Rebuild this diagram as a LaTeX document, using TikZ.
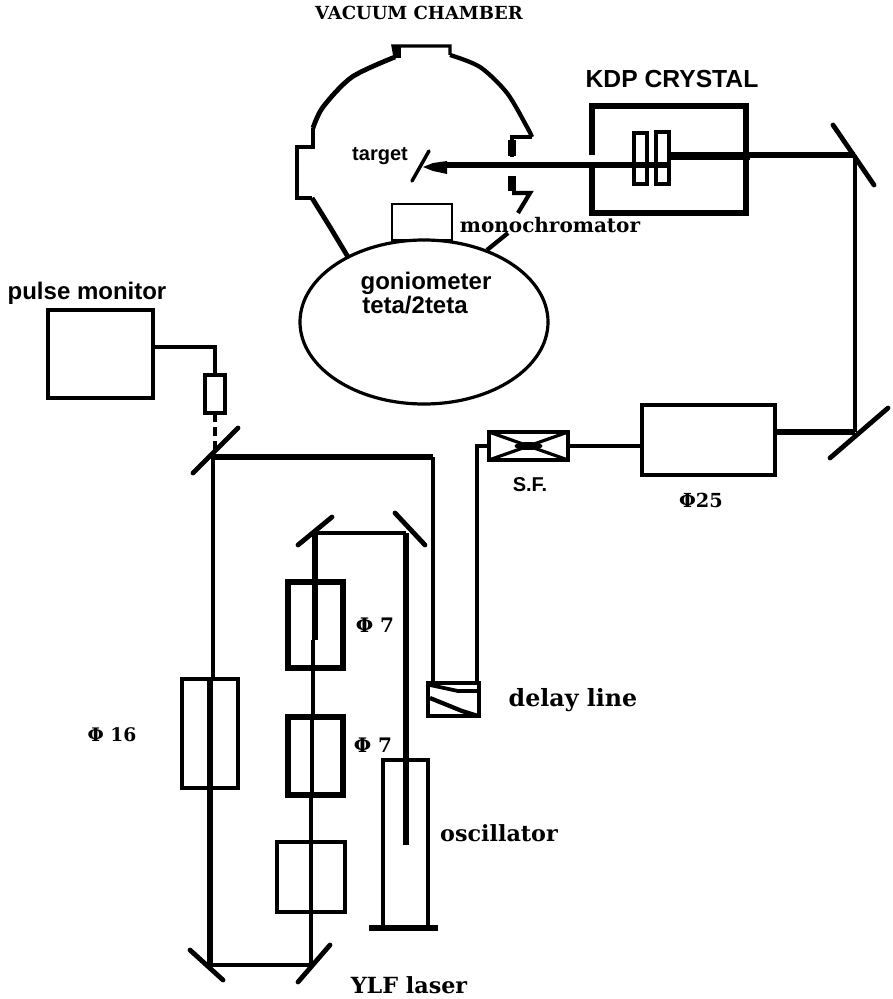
\documentclass[tikz,border=0pt]{standalone}
\usepackage{fontspec}
\setmainfont{DejaVu Serif}
\setsansfont{Liberation Sans}
\usetikzlibrary{shapes.geometric}
\tikzset{
  serlbl/.style={font=\rmfamily\bfseries\fontsize{#1}{#1}\selectfont, inner sep=0pt},
  sanslbl/.style={font=\sffamily\bfseries\fontsize{#1}{#1}\selectfont, inner sep=0pt},
  unit/.style 2 args={draw, rectangle, inner sep=0pt, outer sep=0pt, line width=3.4pt, minimum width=#1*0.75pt, minimum height=#2*0.75pt},
  mirror/.style={line width=3.6pt, line cap=round},
  beam/.style={line width=3.2pt},
  thinbeam/.style={line width=2.8pt},
  wall/.style={line width=3.2pt},
}
\begin{document}
\begin{tikzpicture}[x=0.75pt, y=-0.75pt]
\useasboundingbox (0,0) rectangle (892,999);
% labels
\node[serlbl=13.5] (lblchamber) at (419,13) {VACUUM CHAMBER};
\node[sanslbl=18.5] (lblkdp) at (672,79) {KDP CRYSTAL};
\node[sanslbl=15] (lbltarget) at (380,156) {target};
\node[serlbl=15] (lblmono) at (550,225) {monochromator};
\node[sanslbl=18] (lblgonio) at (426,283) {goniometer};
\node[sanslbl=18] (lblteta) at (415,305) {teta/2teta};
\node[sanslbl=18] (lblpulse) at (87,293) {pulse monitor};
\node[sanslbl=15] (lblsf) at (530,485) {S.F.};
\node[serlbl=14.5] (lblphia) at (701,500) {Φ25};
\node[serlbl=15] (lblphib) at (375,625) {Φ 7};
\node[serlbl=15] (lblphic) at (373,745) {Φ 7};
\node[serlbl=14] (lblphid) at (112,735) {Φ 16};
\node[serlbl=17.8] (lbldelay) at (573,700) {delay line};
\node[serlbl=16.7] (lblosc) at (499,833) {oscillator};
\node[serlbl=16.7] (lblylf) at (409,985) {YLF laser};
% vacuum chamber
\draw[wall, line width=3.6pt] plot[smooth] coordinates {(395,57) (352,77) (323,107) (313,128)};
\draw[wall] (313,128) -- (313,147) -- (297,147) -- (297,198) -- (312,198);
\draw[wall, line width=3.6pt] (312,198) -- (330,227) -- (348,257);
\draw[line width=2.4pt] (395,57) -- (393,46) -- (450,46) -- (450,55);
\fill (393,47) rectangle (401,58);
\draw[wall] plot[smooth] coordinates {(450,55) (480,67) (507,93) (527,127) (532,137)};
\draw[wall] (532,137) -- (512,137) -- (512,157);
\draw[line width=6pt] (512,140) -- (512,156);
\draw[line width=6pt] (512,176) -- (512,191);
\draw[wall] (512,193) -- (530,193) -- (518,213);
% goniometer, monochromator
\node[draw, ellipse, inner sep=0pt, outer sep=0pt, line width=2.4pt, minimum width=248*0.75pt, minimum height=164*0.75pt] (gonio) at (424,322) {};
\node[unit={60}{36}, line width=2.2pt] (mono) at (422,222) {};
\coordinate (wedgea) at (487,250);
\coordinate (wedgeb) at (508,233);
\draw[wall] (wedgea) -- (wedgeb);
% KDP crystal
\node[unit={154}{107}, line width=5pt] (kdp) at (669,159.5) {};
\fill[white] (588,155) rectangle (596,168);
\node[unit={13}{51}, line width=3.6pt] (cella) at (640.5,158.5) {};
\node[unit={13}{52}, line width=3.2pt] (cellb) at (662.5,158) {};
% beam to target
\coordinate (mirrorkdp) at (855,155);
\coordinate (kdpout) at (750,155);
\coordinate (kdpmid) at (669,156);
\coordinate (kdpleft) at (669,165);
\coordinate (nearhead) at (447,165);
\draw[line width=4pt] (mirrorkdp) -- (kdpout);
\draw[line width=5.5pt] (kdpout |- kdpmid) -- (kdpmid);
\draw[line width=4.4pt] (kdpleft) -- (nearhead);
\fill (423,167) -- (433,163) -- (447,161) -- (447,174) -- (433,171) -- cycle;
\coordinate (targeta) at (429,151);
\coordinate (targetb) at (412,181);
\draw[line width=2.6pt, line cap=round] (targeta) -- (targetb);
\draw[mirror] (833,125) -- (874,185);
% right side
\coordinate (mirrorlow) at (855,432);
\draw[beam] (mirrorkdp) -- (mirrorlow);
\draw[mirror] (830,458) -- (888,408);
\node[unit={133}{70}] (expander) at (708.5,440) {};
\draw[line width=4pt] (mirrorlow) -- (expander.east |- mirrorlow);
% spatial filter
\node[unit={79}{28}, line width=2.6pt] (sf) at (528.5,446) {};
\draw[line width=2.4pt] (sf.north west) -- (sf.south east) (sf.north east) -- (sf.south west);
\fill (sf.center) ellipse[x radius=14, y radius=4];
\draw[beam] (expander.west |- sf.east) -- (sf.east);
% delay line
\node[unit={51}{33}, line width=2.8pt] (delay) at (453.5,699.5) {};
\draw[line width=2.8pt] (430,685) -- (458,691) -- (478,691);
\draw[line width=3.2pt] (430,698) -- (462,711) -- (478,716);
\coordinate (sfleft) at (477,446);
\draw[thinbeam] (sf.west) -- (sfleft) -- (sfleft |- delay.north);
% pulse monitor
\coordinate (mirrorpulse) at (213,457);
\coordinate (delayin) at (433,457);
\draw[line width=4pt] (mirrorpulse) -- (delayin);
\draw[beam] (delayin) -- (delayin |- delay.north);
\draw[mirror] (193,473) -- (238,428);
\node[unit={105}{88}] (pulse) at (100.5,354) {};
\node[unit={20}{38}] (det) at (215,394) {};
\coordinate (wirecorner) at (215,347);
\draw[thinbeam] (pulse.east |- wirecorner) -- (wirecorner) -- (det.north);
\draw[line width=3.4pt, dash pattern=on 7pt off 3.5pt] (det.south) -- (det.south |- mirrorpulse);
% amplifier chain
\node[unit={56}{109}] (ampd) at (210,733.5) {};
\node[unit={55}{86}, line width=3.8pt] (ampa) at (315.5,625) {};
\node[unit={55}{78}, line width=4.4pt] (ampb) at (315.5,756) {};
\node[unit={68}{70}] (ampc) at (311,877) {};
\coordinate (mirrorbl) at (210,965);
\coordinate (mirrorbr) at (311,965);
\coordinate (mirrortl) at (315,533);
\coordinate (mirrortr) at (406,533);
\draw[thinbeam] (mirrorpulse) -- (mirrorpulse |- ampd.north);
\draw[line width=4pt] (ampd.north) -- (mirrorbl);
\draw[beam] (mirrorbl) -- (mirrorbr);
\draw[line width=3.6pt] (mirrorbr) -- (ampc.north);
\draw[thinbeam] (ampc.north) -- (ampb.south -| ampc.north);
\draw[beam] (312,795) -- (312,717);
\draw[thinbeam] (313,717) -- (313,640);
\draw[line width=3.8pt] (315,640) -- (mirrortl);
\draw[beam] (mirrortl) -- (mirrortr);
\draw[mirror] (190,950) -- (223,980);
\draw[mirror] (298,982) -- (330,945);
\draw[mirror] (298,545) -- (332,517);
\draw[mirror] (425,545) -- (395,513);
% oscillator
\node[unit={45}{167}, line width=3pt] (osc) at (405.5,843.5) {};
\coordinate (oscrod) at (406,845);
\draw[line width=5pt] (mirrortr) -- (oscrod);
\coordinate (basea) at (369,928);
\coordinate (baseb) at (438,928);
\draw[line width=4.2pt] (basea) -- (baseb);
\end{tikzpicture}
\end{document}
